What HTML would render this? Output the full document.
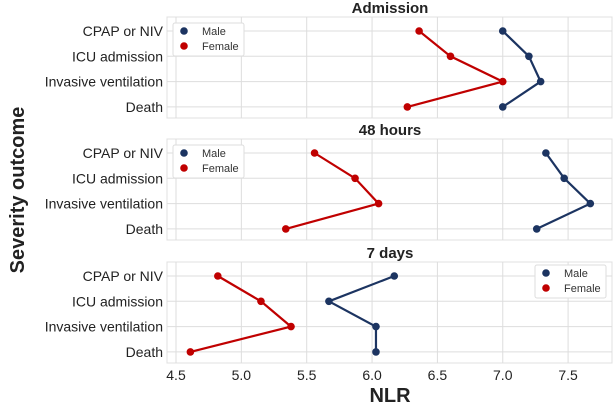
<!DOCTYPE html>
<html><head><meta charset="utf-8"><style>
body{margin:0;background:#fff;font-family:"Liberation Sans",sans-serif}
</style></head><body>
<svg id="c" width="613" height="405" xmlns="http://www.w3.org/2000/svg" font-family="Liberation Sans, sans-serif"></svg>
<script>
const categories=["CPAP or NIV","ICU admission","Invasive ventilation","Death"];
const panelTitles=["Admission","48 hours","7 days"];
const maleAdmission=[7.0,7.2,7.29,7.0];
const femaleAdmission=[6.36,6.6,7.0,6.27];
const male48h=[7.33,7.47,7.67,7.26];
const female48h=[5.56,5.87,6.05,5.34];
const male7d=[6.17,5.67,6.03,6.03];
const female7d=[4.82,5.15,5.38,4.61];
const xTicks=[4.5,5.0,5.5,6.0,6.5,7.0,7.5];
const maleSeries=[maleAdmission,male48h,male7d];
const femaleSeries=[femaleAdmission,female48h,female7d];

const svg=document.getElementById('c');
const NS="http://www.w3.org/2000/svg";
function mk(t,a,p){const e=document.createElementNS(NS,t);for(const k in a)e.setAttribute(k,a[k]);(p||svg).appendChild(e);return e;}
const L=167,R=612;
const x=v=>176+(v-4.5)*130.7;
const tops=[17,139,262],H=101;
const y=(p,i)=>tops[p]+14+i*25.3;
const MC="#1c3461",FC="#c00000";

for(let p=0;p<3;p++){
  const g=mk('g',{});
  
  
  const fr=mk('rect',{x:L,y:tops[p],width:R-L,height:H,fill:'#fff',stroke:'#e0e0e0'},g);
  
  
  xTicks.forEach(t=>{const l=mk('line',{x1:x(t),x2:x(t),y1:tops[p],y2:tops[p]+H,stroke:'#dddddd'},g);
    
    });
  categories.forEach((c,i)=>{
    const l=mk('line',{x1:L,x2:R,y1:y(p,i),y2:y(p,i),stroke:'#dddddd'},g);
    
    
    const t=mk('text',{x:163,y:y(p,i)+5,'text-anchor':'end','font-size':14,fill:'#222'},g);
    t.textContent=c;
    
    
  });
  const tt=mk('text',{x:390,y:tops[p]-4,'text-anchor':'middle','font-size':15,'font-weight':'bold',fill:'#222'},g);
  tt.textContent=panelTitles[p];
  
  
  [[maleSeries[p],MC,'male'],[femaleSeries[p],FC,'female']].forEach(([vals,col,nm])=>{
    const pl=mk('polyline',{points:vals.map((v,i)=>x(v)+','+y(p,i)).join(' '),fill:'none',stroke:col,'stroke-width':2.2},g);
    
    
    vals.forEach((v,i)=>{const c=mk('circle',{cx:x(v),cy:y(p,i),r:3.8,fill:col},g);
      
      });
  });
  const lx=p==2?535:173, ly=p==2?265:tops[p]+6;
  const lg=mk('g',{},g);
  
  
  mk('rect',{x:lx,y:ly,width:71,height:33,fill:'#fff',stroke:'#dddddd',rx:2},lg);
  [['Male',MC],['Female',FC]].forEach(([n,col],k)=>{
    mk('circle',{cx:lx+11,cy:ly+8+k*15,r:3.8,fill:col},lg);
    const t=mk('text',{x:lx+29,y:ly+12+k*15,'font-size':11,fill:'#333'},lg);
    t.textContent=n;
    
    
  });
}
xTicks.forEach(t=>{const e=mk('text',{x:x(t),y:380,'text-anchor':'middle','font-size':14,fill:'#222'});
  e.textContent=t.toFixed(1);
  
  });
const xt=mk('text',{x:390,y:402,'text-anchor':'middle','font-size':20,'font-weight':'bold',fill:'#222'});
xt.textContent='NLR';


const yt=mk('text',{x:0,y:0,'text-anchor':'middle','font-size':20,'font-weight':'bold',fill:'#222',transform:'translate(24,190) rotate(-90)'});
yt.textContent='Severity outcome';


</script>
</body></html>
